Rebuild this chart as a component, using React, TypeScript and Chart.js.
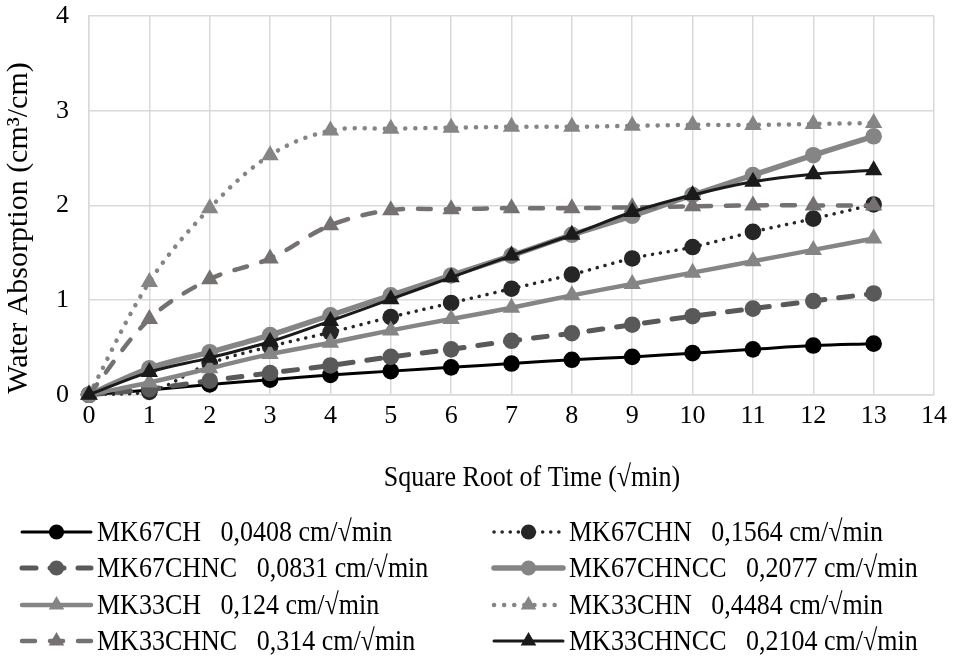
import React, { useEffect, useRef } from "react";
import { Chart, registerables } from "chart.js";

Chart.register(...registerables);

const xValues = [0, 1, 2, 3, 4, 5, 6, 7, 8, 9, 10, 11, 12, 13];
const MK67CH = [0, 0.05, 0.11, 0.16, 0.21, 0.25, 0.29, 0.33, 0.37, 0.40, 0.44, 0.48, 0.52, 0.54];
const MK67CHN = [0, 0.03, 0.33, 0.51, 0.66, 0.82, 0.97, 1.12, 1.27, 1.44, 1.56, 1.72, 1.86, 2.01];
const MK67CHNC = [0, 0.06, 0.15, 0.23, 0.31, 0.40, 0.48, 0.57, 0.65, 0.74, 0.83, 0.91, 0.99, 1.07];
const MK67CHNCC = [0, 0.28, 0.45, 0.63, 0.84, 1.05, 1.26, 1.47, 1.69, 1.89, 2.11, 2.32, 2.53, 2.73];
const MK33CH = [0, 0.13, 0.28, 0.43, 0.55, 0.68, 0.80, 0.92, 1.05, 1.17, 1.29, 1.41, 1.53, 1.65];
const MK33CHN = [0, 1.19, 1.97, 2.53, 2.79, 2.81, 2.82, 2.83, 2.83, 2.84, 2.85, 2.85, 2.86, 2.87];
const MK33CHNC = [0, 0.80, 1.22, 1.44, 1.79, 1.95, 1.96, 1.97, 1.97, 1.98, 1.99, 2.0, 2.0, 2.0];
const MK33CHNCC = [0, 0.24, 0.39, 0.56, 0.78, 1.01, 1.24, 1.47, 1.69, 1.93, 2.11, 2.25, 2.33, 2.37];

const seriesNames = ["MK67CH", "MK67CHN", "MK67CHNC", "MK67CHNCC", "MK33CH", "MK33CHN", "MK33CHNC", "MK33CHNCC"];
const sorptivity = ["0,0408", "0,1564", "0,0831", "0,2077", "0,124", "0,4484", "0,314", "0,2104"];
const seriesValues = [MK67CH, MK67CHN, MK67CHNC, MK67CHNCC, MK33CH, MK33CHN, MK33CHNC, MK33CHNCC];

const xTitle = "Square Root of Time (\u221Amin)";
const yTitle = "Water Absorption (cm\u00B3/cm)";

const FONT = "'Liberation Serif', 'Times New Roman', serif";
const FS = 26;
const VSCALE = 1.15;

type Style = {
  color: string;
  width: number;
  dash: number[];
  cap: CanvasLineCap;
  point: "circle" | "triangle";
  radius: number;
  legendRadius: number;
};

const styles: Style[] = [
  { color: "#000000", width: 3, dash: [], cap: "round", point: "circle", radius: 8.3, legendRadius: 7.6 },
  { color: "#262626", width: 3.5, dash: [0.1, 8], cap: "round", point: "circle", radius: 8.3, legendRadius: 7.6 },
  { color: "#595959", width: 5, dash: [14, 14], cap: "round", point: "circle", radius: 8.3, legendRadius: 7.6 },
  { color: "#858585", width: 5.5, dash: [], cap: "round", point: "circle", radius: 8.3, legendRadius: 7.6 },
  { color: "#858585", width: 4.5, dash: [], cap: "round", point: "triangle", radius: 10, legendRadius: 9 },
  { color: "#858585", width: 4.5, dash: [0.1, 10], cap: "round", point: "triangle", radius: 10, legendRadius: 9 },
  { color: "#767171", width: 4.5, dash: [13, 15], cap: "round", point: "triangle", radius: 10, legendRadius: 9 },
  { color: "#1a1a1a", width: 3, dash: [], cap: "round", point: "triangle", radius: 10, legendRadius: 9 },
];

function drawMarker(ctx: CanvasRenderingContext2D, kind: string, x: number, y: number, r: number, color: string) {
  ctx.save();
  ctx.setLineDash([]);
  ctx.fillStyle = color;
  ctx.beginPath();
  if (kind === "circle") {
    ctx.arc(x, y, r, 0, Math.PI * 2);
  } else {
    for (let i = 0; i < 3; i++) {
      const a = -Math.PI / 2 + (i * 2 * Math.PI) / 3;
      const px = x + Math.cos(a) * r;
      const py = y + Math.sin(a) * r;
      if (i === 0) ctx.moveTo(px, py);
      else ctx.lineTo(px, py);
    }
    ctx.closePath();
  }
  ctx.fill();
  ctx.restore();
}

function drawText(ctx: CanvasRenderingContext2D, text: string, x: number, y: number, align: CanvasTextAlign) {
  ctx.save();
  ctx.translate(x, y);
  ctx.scale(1, VSCALE);
  ctx.fillStyle = "#000";
  ctx.font = `${FS}px ${FONT}`;
  ctx.textAlign = align;
  ctx.textBaseline = "middle";
  ctx.fillText(text, 0, 0);
  ctx.restore();
}

const legendPlugin = {
  id: "customLegend",
  afterDraw(chart: any) {
    const ctx: CanvasRenderingContext2D = chart.ctx;
    ctx.save();
    drawText(ctx, xTitle, 532, 478, "center");
    ctx.save();
    ctx.translate(19, 228);
    ctx.rotate(-Math.PI / 2);
    ctx.fillStyle = "#000";
    ctx.font = `${Math.round(FS * VSCALE)}px ${FONT}`;
    ctx.textAlign = "center";
    ctx.textBaseline = "middle";
    ctx.fillText(yTitle, 0, 0);
    ctx.restore();

    const colX = [22, 494];
    const rowY = [532, 568, 605, 641];
    const lineLen = 69;
    chart.data.datasets.forEach((ds: any, i: number) => {
      const st = styles[i];
      const col = i % 2;
      const row = Math.floor(i / 2);
      const x0 = colX[col];
      const y = rowY[row];
      ctx.save();
      ctx.strokeStyle = st.color;
      ctx.lineWidth = st.width;
      ctx.lineCap = st.cap;
      ctx.setLineDash(st.dash);
      ctx.beginPath();
      ctx.moveTo(x0, y);
      ctx.lineTo(x0 + lineLen, y);
      ctx.stroke();
      ctx.restore();
      drawMarker(ctx, st.point, x0 + lineLen / 2, y, st.legendRadius, st.color);
      drawText(ctx, `${seriesNames[i]}   ${sorptivity[i]} cm/\u221Amin`, x0 + lineLen + 6, y + 1, "left");
    });
    ctx.restore();
  },
};

function zeroPad(scale: any) {
  scale.paddingTop = 0;
  scale.paddingBottom = 0;
  scale.paddingLeft = 0;
  scale.paddingRight = 0;
}

export default function App() {
  const canvasRef = useRef<HTMLCanvasElement | null>(null);

  useEffect(() => {
    document.body.style.margin = "0";
    const canvas = canvasRef.current;
    if (!canvas) return;
    Chart.defaults.font.family = FONT;
    Chart.defaults.font.size = FS;
    Chart.defaults.color = "#000";

    const datasets = seriesValues.map((vals, i) => {
      const st = styles[i];
      return {
        label: seriesNames[i],
        data: xValues.map((x, j) => ({ x, y: vals[j] })),
        borderColor: st.color,
        backgroundColor: st.color,
        borderWidth: st.width,
        borderDash: st.dash,
        borderCapStyle: st.cap,
        borderJoinStyle: "round" as CanvasLineJoin,
        pointStyle: st.point,
        pointRadius: st.radius,
        pointBorderWidth: 0,
        pointBackgroundColor: st.color,
        pointBorderColor: st.color,
        tension: 0.35,
        fill: false,
        clip: false as any,
        order: seriesNames.length - i,
      };
    });

    const chart = new Chart(canvas, {
      type: "line",
      data: { datasets },
      options: {
        animation: false,
        responsive: false,
        maintainAspectRatio: false,
        layout: { padding: { left: 36, right: 22, top: 16, bottom: 221 } },
        plugins: {
          legend: { display: false },
          tooltip: { enabled: false },
        },
        scales: {
          x: {
            type: "linear",
            min: 0,
            max: 14,
            afterFit: zeroPad,
            ticks: { stepSize: 1, padding: 6, color: "#000", font: { size: FS, family: FONT } },
            grid: { color: "#d9d9d9", lineWidth: 1.5, drawTicks: false },
            border: { color: "#d9d9d9", width: 1.5 },
          },
          y: {
            type: "linear",
            min: 0,
            max: 4,
            afterFit: zeroPad,
            ticks: { stepSize: 1, padding: 20, color: "#000", font: { size: FS, family: FONT } },
            grid: { color: "#d9d9d9", lineWidth: 1.5, drawTicks: false },
            border: { color: "#d9d9d9", width: 1.5 },
          },
        },
      },
      plugins: [legendPlugin],
    });
    return () => chart.destroy();
  }, []);

  return (
    <div style={{ width: 956, height: 659 }}>
      <canvas ref={canvasRef} width={956} height={659} style={{ display: "block" }} />
    </div>
  );
}
